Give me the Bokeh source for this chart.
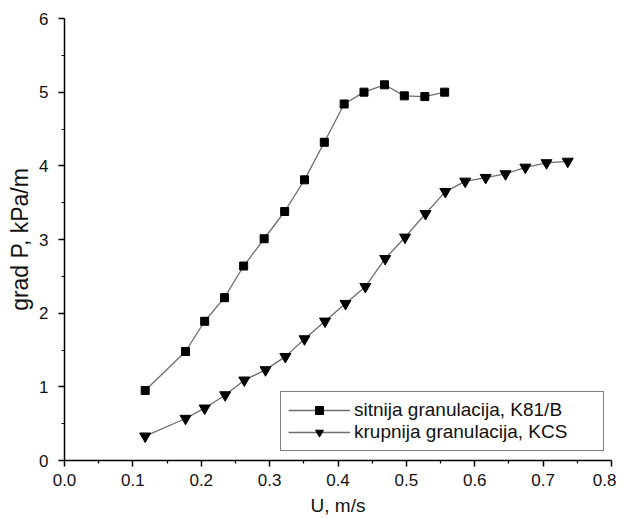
from bokeh.plotting import figure
from bokeh.models import Range1d, FixedTicker, Legend, LegendItem, CustomJSTickFormatter
from bokeh.embed import file_html
from bokeh.resources import INLINE

# --- data ---
u_fine = [0.118, 0.177, 0.205, 0.234, 0.262, 0.292, 0.322, 0.351, 0.380, 0.409,
          0.438, 0.468, 0.497, 0.527, 0.556]
gp_fine = [0.95, 1.48, 1.89, 2.21, 2.64, 3.01, 3.38, 3.81, 4.32, 4.84,
           5.00, 5.10, 4.95, 4.94, 5.00]

u_coarse = [0.118, 0.177, 0.205, 0.235, 0.263, 0.294, 0.323, 0.351, 0.381, 0.411,
            0.440, 0.469, 0.498, 0.528, 0.557, 0.586, 0.616, 0.645, 0.674, 0.705, 0.736]
gp_coarse = [0.33, 0.57, 0.71, 0.89, 1.09, 1.23, 1.41, 1.65, 1.89, 2.13,
             2.36, 2.74, 3.03, 3.35, 3.65, 3.79, 3.84, 3.89, 3.98, 4.04, 4.06]

x_ticks = [0.0, 0.1, 0.2, 0.3, 0.4, 0.5, 0.6, 0.7, 0.8]
x_minor = [0.05, 0.15, 0.25, 0.35, 0.45, 0.55, 0.65, 0.75]
y_ticks = [0, 1, 2, 3, 4, 5, 6]
y_minor = [0.5, 1.5, 2.5, 3.5, 4.5, 5.5]

label_fine = "sitnija granulacija, K81/B"
label_coarse = "krupnija granulacija, KCS"
x_title = "U, m/s"
y_title = "grad P, kPa/m"

FONT = "Liberation Sans"
TXT = "#111111"

p = figure(width=616, height=518, output_backend="svg", toolbar_location=None,
           x_range=Range1d(0, 0.8), y_range=Range1d(0, 6),
           min_border_left=64, min_border_right=5, min_border_top=18, min_border_bottom=58)
p.outline_line_color = None
p.grid.visible = False
p.background_fill_color = "white"
p.border_fill_color = "white"

for ax in (p.xaxis[0], p.yaxis[0]):
    ax.axis_line_color = "black"
    ax.axis_line_width = 1.5
    ax.major_tick_line_color = "black"
    ax.minor_tick_line_color = "black"
    ax.major_tick_line_width = 1.5
    ax.minor_tick_line_width = 1.2
    ax.major_tick_in = 0
    ax.major_tick_out = 6
    ax.minor_tick_in = 0
    ax.minor_tick_out = 3
    ax.major_label_text_font = FONT
    ax.major_label_text_font_size = "17px"
    ax.major_label_text_color = TXT
    ax.major_label_text_line_height = 1.0
    ax.axis_label_text_font = FONT
    ax.axis_label_text_font_style = "normal"
    ax.axis_label_text_color = TXT
    ax.axis_label_text_line_height = 1.0

p.xaxis[0].ticker = FixedTicker(ticks=x_ticks, minor_ticks=x_minor)
p.xaxis[0].formatter = CustomJSTickFormatter(code="return tick.toFixed(1);")
p.xaxis[0].major_label_standoff = 7
p.xaxis[0].axis_label = x_title
p.xaxis[0].axis_label_text_font_size = "19px"
p.xaxis[0].axis_label_standoff = 6

p.yaxis[0].ticker = FixedTicker(ticks=y_ticks, minor_ticks=y_minor)
p.yaxis[0].formatter = CustomJSTickFormatter(code="return tick.toFixed(0);")
p.yaxis[0].major_label_standoff = 10
p.yaxis[0].axis_label = y_title
p.yaxis[0].axis_label_text_font_size = "23px"
p.yaxis[0].axis_label_standoff = 3

LINE = "#6e6e6e"
l1 = p.line(u_fine, gp_fine, line_color=LINE, line_width=1.3)
m1 = p.scatter(u_fine, gp_fine, marker="square", size=8, fill_color="black", line_color="black")
l2 = p.line(u_coarse, gp_coarse, line_color=LINE, line_width=1.3)
m2 = p.scatter(u_coarse, gp_coarse, marker="inverted_triangle", size=11,
               fill_color="black", line_color="black")

legend = Legend(items=[LegendItem(label=label_fine, renderers=[l1, m1]),
                       LegendItem(label=label_coarse, renderers=[l2, m2])],
                location=(216, 9))
legend.border_line_color = "black"
legend.border_line_width = 1.2
legend.background_fill_alpha = 1
legend.padding = 7
legend.spacing = 0
legend.margin = 0
legend.glyph_width = 62
legend.glyph_height = 20
legend.label_height = 20
legend.label_standoff = 4
legend.label_width = 242
legend.label_text_font = FONT
legend.label_text_font_size = "19px"
legend.label_text_color = TXT
p.add_layout(legend, "center")

open("out.html", "w").write(file_html(p, INLINE))
